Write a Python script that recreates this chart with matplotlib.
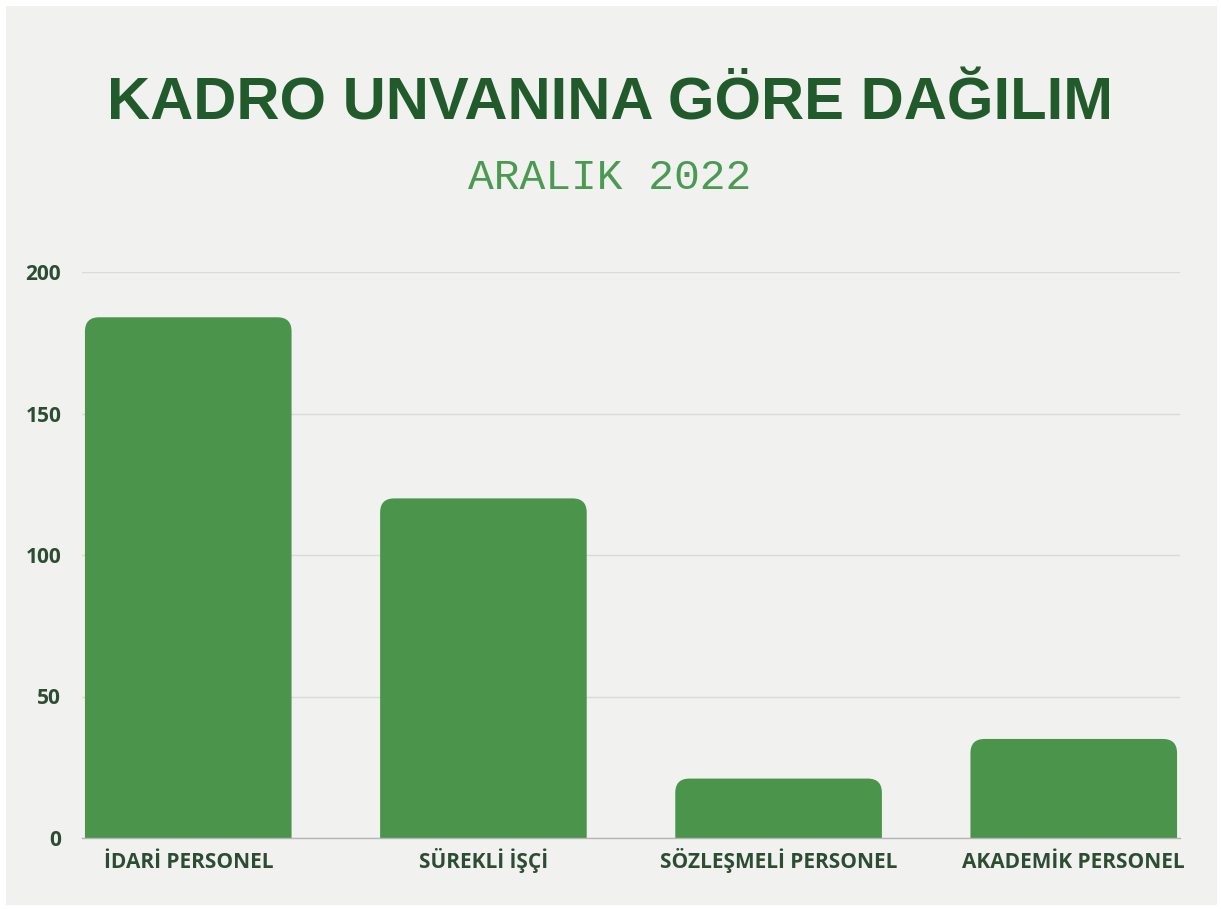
import matplotlib.pyplot as plt
from matplotlib.patches import FancyBboxPatch, Rectangle

# Data
categories = ['İDARİ PERSONEL', 'SÜREKLİ İŞÇİ', 'SÖZLEŞMELİ PERSONEL', 'AKADEMİK PERSONEL']
values = [184, 120, 21, 35]
y_ticks = [0, 50, 100, 150, 200]

title = 'KADRO UNVANINA GÖRE DAĞILIM'
subtitle = 'ARALIK 2022'

bg = '#f1f1f0'
bar_color = '#4a944c'
dark_green = '#215b2b'
label_color = '#2c4d33'

W, H = 1221, 909
fig = plt.figure(figsize=(W / 100, H / 100), dpi=100, facecolor='white')
# paper background with a thin white border
fig.patches.append(Rectangle((6 / W, 4 / H), 1 - 10 / W, 1 - 10 / H, transform=fig.transFigure,
                             fc=bg, ec='none', zorder=-10))

ax = fig.add_axes([82 / W, 71 / H, 1098 / W, 566 / H])
ax.set_facecolor('none')

x = range(len(categories))
bars = ax.bar(x, values, width=0.7, color=bar_color, zorder=3)
ax.set_xlim(-0.36, len(categories) - 1 + 0.36)
ax.set_ylim(0, 200)

# round the top corners of the bars (bottom corners hidden below the axis)
r = 0.048
xl = ax.get_xlim()
yl = ax.get_ylim()
bbox = ax.get_position()
px_x = bbox.width * W / (xl[1] - xl[0])
px_y = bbox.height * H / (yl[1] - yl[0])
asp = px_x / px_y
ext = 2 * r * asp
for b in bars:
    b.set_visible(False)
    bx, bw, bh = b.get_x(), b.get_width(), b.get_height()
    ax.add_patch(FancyBboxPatch((bx, -ext), bw, bh + ext,
                                boxstyle=f'round,pad=0,rounding_size={r}',
                                mutation_aspect=asp, fc=bar_color, ec='none', zorder=3))

ax.set_yticks(y_ticks)
ax.set_yticklabels([str(t) for t in y_ticks])
ax.set_xticks(list(x))
ax.set_xticklabels(categories)
for lab in ax.get_yticklabels() + ax.get_xticklabels():
    lab.set_fontfamily('Open Sans')
    lab.set_fontweight('bold')
    lab.set_color(label_color)
    lab.set_fontsize(15)
for lab in ax.get_xticklabels():
    lab.set_verticalalignment('baseline')
ax.tick_params(axis='both', length=0)
ax.tick_params(axis='y', pad=15)
ax.tick_params(axis='x', pad=21.5)

ax.grid(axis='y', color='#dadada', lw=1, zorder=0)
for s in ['top', 'right', 'left']:
    ax.spines[s].set_visible(False)
ax.spines['bottom'].set_color('#b5b5b5')
ax.spines['bottom'].set_linewidth(1)
ax.spines['bottom'].set_zorder(4)

fig.text(0.4996, 1 - 104 / H, title, ha='center', va='center',
         fontsize=43, fontweight='bold', family='Liberation Sans', color=dark_green)
fig.text(0.4996, 1 - 178 / H, subtitle, ha='center', va='center',
         fontsize=31, family='Liberation Mono', color='#4b9a52')

fig.savefig('out.png', dpi=100, facecolor='white')
